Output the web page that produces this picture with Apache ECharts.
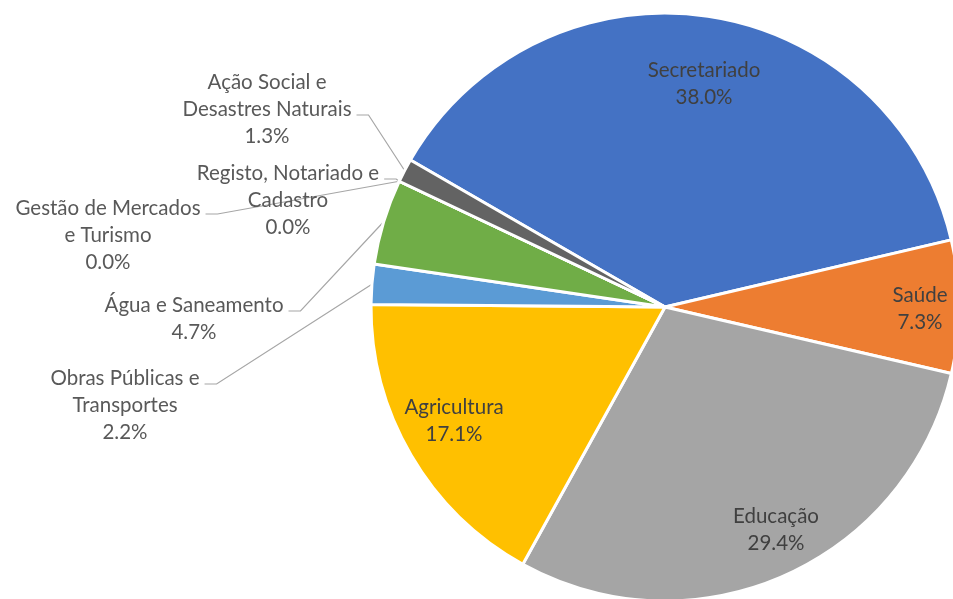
<!DOCTYPE html>
<html>
<head>
<meta charset="utf-8">
<script src="https://cdn.jsdelivr.net/npm/echarts@6/dist/echarts.min.js"></script>
<style>
  html, body { margin: 0; padding: 0; background: #fff; }
  #chart { width: 953px; height: 599px; }
</style>
</head>
<body>
<div id="chart"></div>
<script>
const names = ['Secretariado', 'Saúde', 'Educação', 'Agricultura', 'Obras Públicas e Transportes',
  'Água e Saneamento', 'Gestão de Mercados e Turismo', 'Registo, Notariado e Cadastro',
  'Ação Social e Desastres Naturais'];
const labelText = ['Secretariado', 'Saúde', 'Educação', 'Agricultura', 'Obras Públicas e\nTransportes',
  'Água e Saneamento', 'Gestão de Mercados\ne Turismo', 'Registo, Notariado e\nCadastro',
  'Ação Social e\nDesastres Naturais'];
const shares = [38.0, 7.3, 29.4, 17.1, 2.2, 4.7, 0.0, 0.0, 1.3];
const colors = ['#4472C4', '#ED7D31', '#A5A5A5', '#FFC000', '#5B9BD5', '#70AD47', '#264478', '#9E480E', '#636363'];

// label spots: centre x, first line centre y, line the leader attaches to (-1 = inside)
const spots = [
  [704, 70, -1], [920, 295, -1], [776, 516, -1], [454, 407, -1],
  [125, 378, 0], [194, 305, 0], [108, 208, 0], [288, 173, 0], [267, 82, 1]
];

const FONT = 'Lato';
const FS = 20.5;
const LH = 27;

const ctx = document.createElement('canvas').getContext('2d');
ctx.font = FS + 'px ' + FONT;

function lineWidth (i, k) {
  const lines = (labelText[i] + '\n' + shares[i].toFixed(1) + '%').split('\n');
  return ctx.measureText(lines[k]).width;
}

const data = names.map((n, i) => {
  const inside = spots[i][2] < 0;
  return {
    name: n,
    value: shares[i],
    itemStyle: { color: colors[i] },
    label: {
      position: inside ? 'inside' : 'outside',
      color: inside ? '#404040' : '#595959'
    },
    labelLine: { show: !inside }
  };
});

const chart = echarts.init(document.getElementById('chart'));
chart.setOption({
  animation: false,
  series: [{
    type: 'pie',
    center: [665, 307],
    radius: 294,
    startAngle: 150,
    clockwise: true,
    avoidLabelOverlap: false,
    silent: true,
    itemStyle: { borderColor: '#fff', borderWidth: 3 },
    label: {
      fontFamily: FONT,
      fontSize: FS,
      lineHeight: LH,
      align: 'center',
      formatter: p => labelText[p.dataIndex] + '\n' + p.value.toFixed(1) + '%'
    },
    labelLine: { lineStyle: { color: '#A6A6A6', width: 1.2 } },
    labelLayout: function (params) {
      const i = params.dataIndex;
      const s = spots[i];
      const out = { x: s[0], y: s[1] - LH / 2, align: 'center', verticalAlign: 'top' };
      if (s[2] >= 0 && params.labelLinePoints) {
        const ly = s[1] + s[2] * LH + 6;
        const right = s[0] + lineWidth(i, s[2]) / 2;
        out.labelLinePoints = [
          params.labelLinePoints[0],
          [right + 17, ly],
          [right + 5, ly]
        ];
      }
      return out;
    },
    data: data
  }]
});
</script>
</body>
</html>
